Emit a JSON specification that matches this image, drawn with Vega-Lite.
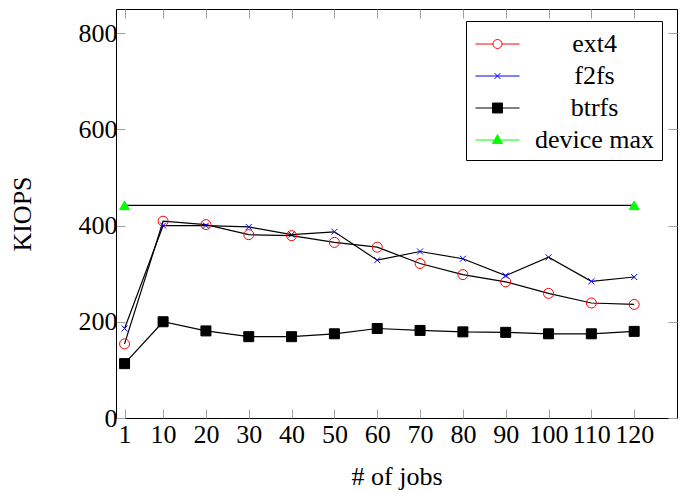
{
  "$schema": "https://vega.github.io/schema/vega-lite/v6.json",
  "autosize": {"type": "none"},
  "padding": {"left": 116, "top": 9, "right": 9, "bottom": 75},
  "width": 561,
  "height": 409,
  "data": {"values": [
    {"jobs": 1, "kiops": 154, "fs": "ext4"},
    {"jobs": 10, "kiops": 409, "fs": "ext4"},
    {"jobs": 20, "kiops": 402, "fs": "ext4"},
    {"jobs": 30, "kiops": 381, "fs": "ext4"},
    {"jobs": 40, "kiops": 379, "fs": "ext4"},
    {"jobs": 50, "kiops": 365, "fs": "ext4"},
    {"jobs": 60, "kiops": 355, "fs": "ext4"},
    {"jobs": 70, "kiops": 321, "fs": "ext4"},
    {"jobs": 80, "kiops": 298, "fs": "ext4"},
    {"jobs": 90, "kiops": 283, "fs": "ext4"},
    {"jobs": 100, "kiops": 259, "fs": "ext4"},
    {"jobs": 110, "kiops": 239, "fs": "ext4"},
    {"jobs": 120, "kiops": 236, "fs": "ext4"},
    {"jobs": 1, "kiops": 186, "fs": "f2fs"},
    {"jobs": 10, "kiops": 400, "fs": "f2fs"},
    {"jobs": 20, "kiops": 400, "fs": "f2fs"},
    {"jobs": 30, "kiops": 397, "fs": "f2fs"},
    {"jobs": 40, "kiops": 381, "fs": "f2fs"},
    {"jobs": 50, "kiops": 387, "fs": "f2fs"},
    {"jobs": 60, "kiops": 328, "fs": "f2fs"},
    {"jobs": 70, "kiops": 346, "fs": "f2fs"},
    {"jobs": 80, "kiops": 331, "fs": "f2fs"},
    {"jobs": 90, "kiops": 296, "fs": "f2fs"},
    {"jobs": 100, "kiops": 334, "fs": "f2fs"},
    {"jobs": 110, "kiops": 284, "fs": "f2fs"},
    {"jobs": 120, "kiops": 293, "fs": "f2fs"},
    {"jobs": 1, "kiops": 113, "fs": "btrfs"},
    {"jobs": 10, "kiops": 200, "fs": "btrfs"},
    {"jobs": 20, "kiops": 181, "fs": "btrfs"},
    {"jobs": 30, "kiops": 169, "fs": "btrfs"},
    {"jobs": 40, "kiops": 169, "fs": "btrfs"},
    {"jobs": 50, "kiops": 175, "fs": "btrfs"},
    {"jobs": 60, "kiops": 186, "fs": "btrfs"},
    {"jobs": 70, "kiops": 182, "fs": "btrfs"},
    {"jobs": 80, "kiops": 179, "fs": "btrfs"},
    {"jobs": 90, "kiops": 178, "fs": "btrfs"},
    {"jobs": 100, "kiops": 175, "fs": "btrfs"},
    {"jobs": 110, "kiops": 175, "fs": "btrfs"},
    {"jobs": 120, "kiops": 180, "fs": "btrfs"},
    {"jobs": 1, "kiops": 442, "fs": "device max"},
    {"jobs": 120, "kiops": 442, "fs": "device max"}
  ]},
  "layer": [
    {
      "mark": {"type": "line", "color": "black", "strokeWidth": 1.2},
      "encoding": {
        "x": {"field": "jobs", "type": "quantitative", "scale": {"domain": [-1, 130], "nice": false, "zero": false},
              "axis": {"orient": "bottom", "title": "# of jobs", "values": [1, 10, 20, 30, 40, 50, 60, 70, 80, 90, 100, 110, 120], "labelPadding": 12, "titlePadding": 16}},
        "y": {"field": "kiops", "type": "quantitative", "scale": {"domain": [0, 850], "nice": false},
              "axis": {"orient": "left", "title": "KIOPS", "values": [0, 200, 400, 600, 800], "labelPadding": 8, "titlePadding": 43}},
        "detail": {"field": "fs", "type": "nominal"}
      }
    },
    {
      "mark": {"type": "point", "filled": true, "size": 100, "strokeWidth": 1, "opacity": 1},
      "encoding": {
        "x": {"field": "jobs", "type": "quantitative",
              "axis": {"orient": "top", "title": null, "labels": false, "values": [1, 10, 20, 30, 40, 50, 60, 70, 80, 90, 100, 110, 120]}},
        "y": {"field": "kiops", "type": "quantitative",
              "axis": {"orient": "right", "title": null, "labels": false, "values": [0, 200, 400, 600, 800]}},
        "fill": {"field": "fs", "type": "nominal",
                 "scale": {"domain": ["ext4", "f2fs", "btrfs", "device max"], "range": ["transparent", "transparent", "black", "#00ff00"]},
                 "legend": null},
        "stroke": {"field": "fs", "type": "nominal",
                   "scale": {"domain": ["ext4", "f2fs", "btrfs", "device max"], "range": ["#ff0000", "#0000ff", "black", "#00ff00"]},
                   "legend": null},
        "shape": {"field": "fs", "type": "nominal",
                  "scale": {"domain": ["ext4", "f2fs", "btrfs", "device max"], "range": ["circle", "M-0.6,-0.6L0.6,0.6M-0.6,0.6L0.6,-0.6", "square", "triangle-up"]},
                  "legend": null}
      }
    },
    {
      "mark": {"type": "point", "filled": true, "size": 961, "strokeWidth": 1, "opacity": 0},
      "encoding": {
        "x": {"field": "jobs", "type": "quantitative", "axis": null},
        "y": {"field": "kiops", "type": "quantitative", "axis": null},
        "fill": {"field": "fs", "type": "nominal",
                 "scale": {"domain": ["ext4", "f2fs", "btrfs", "device max"], "range": ["transparent", "transparent", "black", "#00ff00"]},
                 "legend": {"orient": "none", "legendX": 350, "legendY": 12, "title": null, "padding": 7, "strokeColor": "black", "fillColor": "white", "cornerRadius": 0, "labelFontSize": 26, "labelColor": "black", "labelAlign": "center", "labelOffset": 81, "symbolOffset": 8.5, "symbolSize": 961, "symbolStrokeWidth": 1, "symbolOpacity": 1, "rowPadding": 3}},
        "stroke": {"field": "fs", "type": "nominal",
                   "scale": {"domain": ["ext4", "f2fs", "btrfs", "device max"], "range": ["#ff0000", "#0000ff", "black", "#00ff00"]},
                   "legend": {"orient": "none", "legendX": 350, "legendY": 12, "title": null, "padding": 7, "strokeColor": "black", "fillColor": "white", "cornerRadius": 0, "labelFontSize": 26, "labelColor": "black", "labelAlign": "center", "labelOffset": 81, "symbolOffset": 8.5, "symbolSize": 961, "symbolStrokeWidth": 1, "symbolOpacity": 1, "rowPadding": 3}},
        "shape": {"field": "fs", "type": "nominal",
                  "scale": {"domain": ["ext4", "f2fs", "btrfs", "device max"], "range": [
                    "M-1.42,0H-0.29M0.29,0H1.42M-0.29,0A0.29,0.29,0,1,1,0.29,0A0.29,0.29,0,1,1,-0.29,0",
                    "M-1.42,0H1.42M-0.19,-0.19L0.19,0.19M-0.19,0.19L0.19,-0.19",
                    "M-1.42,0H1.42M-0.32,-0.32H0.32V0.32H-0.32Z",
                    "M-1.42,0H1.42M0,-0.35L0.32,0.23H-0.32Z"]},
                  "legend": {"orient": "none", "legendX": 350, "legendY": 12, "title": null, "padding": 7, "strokeColor": "black", "fillColor": "white", "cornerRadius": 0, "labelFontSize": 26, "labelColor": "black", "labelAlign": "center", "labelOffset": 81, "symbolOffset": 8.5, "symbolSize": 961, "symbolStrokeWidth": 1, "symbolOpacity": 1, "rowPadding": 3}}
      }
    }
  ],
  "resolve": {"scale": {"fill": "independent", "stroke": "independent", "shape": "independent"}},
  "config": {
    "font": "Liberation Serif",
    "view": {"stroke": "black", "strokeWidth": 1},
    "axis": {"grid": false, "domain": false, "tickColor": "#a0a0a0", "tickSize": -9, "tickWidth": 1, "labelFontSize": 26, "titleFontSize": 26, "titleFontWeight": "normal", "labelColor": "black", "titleColor": "black", "labelFont": "Liberation Serif", "titleFont": "Liberation Serif"},
    "legend": {"labelFont": "Liberation Serif"}
  }
}
